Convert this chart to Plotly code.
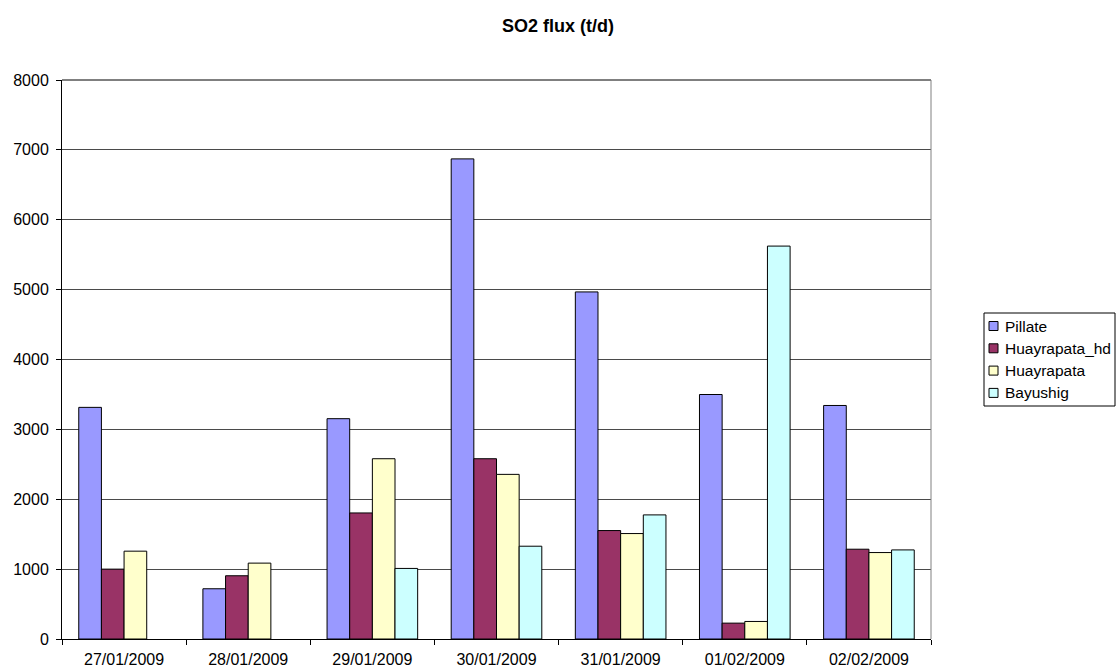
import plotly.graph_objects as go

# Daily SO2 flux by station (t/d)
dates = ["27/01/2009", "28/01/2009", "29/01/2009", "30/01/2009",
         "31/01/2009", "01/02/2009", "02/02/2009"]
pillate = [3315, 719, 3153, 6871, 4967, 3499, 3342]
huayrapata_hd = [1000, 905, 1804, 2580, 1552, 227, 1285]
huayrapata = [1257, 1086, 2580, 2356, 1509, 251, 1237]
bayushig = [None, None, 1010, 1328, 1776, 5623, 1275]

series = [
    ("Pillate", pillate, "#9999FF"),
    ("Huayrapata_hd", huayrapata_hd, "#993366"),
    ("Huayrapata", huayrapata, "#FFFFCC"),
    ("Bayushig", bayushig, "#CCFFFF"),
]

font_family = "Liberation Sans, Arial, sans-serif"
W, H = 1116, 669
ML, MR, MT, MB = 62, 185, 80, 30
PW, PH = W - ML - MR, H - MT - MB


def px_x(px):
    return (px - ML) / PW


def px_y(py):
    return (H - MB - py) / PH


fig = go.Figure()
for name, vals, color in series:
    fig.add_trace(go.Bar(
        x=dates, y=vals, name=name, showlegend=False,
        marker=dict(color=color, line=dict(color="black", width=1)),
    ))

fig.update_layout(
    width=W, height=H,
    margin=dict(l=ML, r=MR, t=MT, b=MB, autoexpand=False),
    paper_bgcolor="white", plot_bgcolor="white",
    barmode="group", bargap=0.27, bargroupgap=0,
    font=dict(family=font_family, size=16, color="black"),
    title=dict(text="<b>SO2 flux (t/d)</b>", x=0.5, xref="container",
               xanchor="center", y=0.962, yref="container", yanchor="middle",
               font=dict(size=18, family=font_family, color="black")),
)

fig.update_xaxes(
    type="category", tickson="boundaries", ticks="outside", ticklen=5,
    tickcolor="black", showline=True, linecolor="black", linewidth=1,
    mirror=False, showgrid=False, tickfont=dict(size=16),
    ticklabelstandoff=6,
)
fig.update_yaxes(
    range=[0, 8000], dtick=1000, ticks="outside", ticklen=5,
    tickcolor="black", showline=True, linecolor="black", linewidth=1,
    showgrid=True, gridcolor="#4a4a4a", gridwidth=1, zeroline=False,
    tickfont=dict(size=16), ticklabelstandoff=4,
)

# Plot-area frame: top edge dark, right edge grey
fig.add_shape(type="line", xref="paper", yref="paper", x0=0, x1=1, y0=1, y1=1,
              line=dict(color="black", width=1))
fig.add_shape(type="line", xref="paper", yref="paper", x0=1, x1=1, y0=0, y1=1,
              line=dict(color="#808080", width=1))

# Legend box with compact swatches
box_l, box_r, box_t, box_b = 984, 1115, 313, 406
fig.add_shape(type="rect", xref="paper", yref="paper",
              x0=px_x(box_l), x1=px_x(box_r), y0=px_y(box_b), y1=px_y(box_t),
              line=dict(color="black", width=1), fillcolor="white", layer="above")
row0, row_step, sw = 326, 22.3, 9
for i, (name, _, color) in enumerate(series):
    cy = row0 + i * row_step
    fig.add_shape(type="rect", xref="paper", yref="paper",
                  x0=px_x(989), x1=px_x(989 + sw),
                  y0=px_y(cy + sw / 2), y1=px_y(cy - sw / 2),
                  line=dict(color="black", width=1), fillcolor=color, layer="above")
    fig.add_annotation(text=name, xref="paper", yref="paper",
                       x=px_x(1003), y=px_y(cy), xanchor="left", yanchor="middle",
                       showarrow=False, font=dict(size=15.5, family=font_family))

fig.write_html("out.html")
